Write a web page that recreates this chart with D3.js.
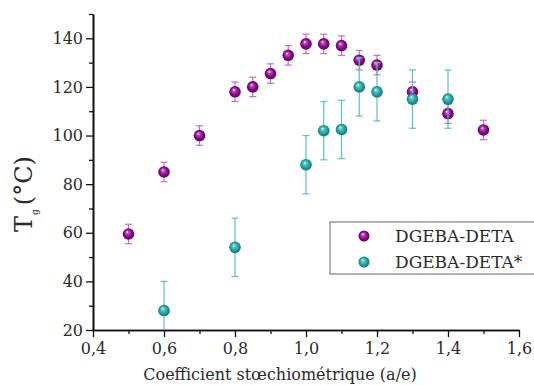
<!DOCTYPE html>
<html>
<head>
<meta charset="utf-8">
<script src="https://cdn.jsdelivr.net/npm/d3@7"></script>
<style>
body { margin: 0; background: #fff; }
svg text { font-family: "DejaVu Serif", serif; fill: #2a2a2a; }
</style>
</head>
<body>
<svg id="chart" width="534" height="385"></svg>
<script>
// DGEBA-DETA
var x_a = [0.5, 0.6, 0.7, 0.8, 0.85, 0.9, 0.95, 1.0, 1.05, 1.1, 1.15, 1.2, 1.3, 1.4, 1.5];
var y_a = [59.5, 85, 100, 118, 120, 125.5, 133, 137.7, 137.7, 137, 131, 129, 118, 109, 102.3];
var e_a = [4, 4, 4, 4, 4, 4, 4, 4, 4, 4, 4, 4, 4, 4, 4];
// DGEBA-DETA*
var x_b = [0.6, 0.8, 1.0, 1.05, 1.1, 1.15, 1.2, 1.3, 1.4];
var y_b = [28, 54, 88, 102, 102.5, 120, 118, 115, 115];
var e_b = [12, 12, 12, 12, 12, 12, 12, 12, 12];
var x_ticks = [0.4, 0.6, 0.8, 1.0, 1.2, 1.4, 1.6];
var y_ticks = [20, 40, 60, 80, 100, 120, 140];
var names = ["DGEBA-DETA", "DGEBA-DETA*"];

var serif = '"DejaVu Serif", serif';
var svg = d3.select('#chart');
var m_left = 93, m_right = 519, m_top = 14, m_bottom = 330;
var x = d3.scaleLinear().domain([0.4, 1.6]).range([m_left, m_right]);
var y = d3.scaleLinear().domain([20, 150]).range([m_bottom, m_top]);
var fmt = function (d) { return d3.format('.1f')(d).replace('.', ','); };

var defs = svg.append('defs');
function sphere(id, light, mid, dark) {
    var g = defs.append('radialGradient').attr('id', id)
        .attr('cx', '50%').attr('cy', '50%').attr('r', '55%')
        .attr('fx', '38%').attr('fy', '32%');
    g.append('stop').attr('offset', '0%').attr('stop-color', '#ffffff');
    g.append('stop').attr('offset', '22%').attr('stop-color', light);
    g.append('stop').attr('offset', '65%').attr('stop-color', mid);
    g.append('stop').attr('offset', '100%').attr('stop-color', dark);
}
sphere('sph_a', '#b050b0', '#880088', '#5a005a');
sphere('sph_b', '#60c8c8', '#1f9c9c', '#0c6a6a');
defs.append('clipPath').attr('id', 'plotclip')
    .append('rect').attr('x', m_left).attr('y', 0).attr('width', m_right - m_left + 10).attr('height', m_bottom);

// axes
var xAxis = d3.axisBottom(x).tickValues(x_ticks).tickFormat(fmt).tickSize(7).tickSizeOuter(0);
var xMinor = d3.axisBottom(x).tickValues([0.5, 0.7, 0.9, 1.1, 1.3, 1.5]).tickFormat('').tickSize(4).tickSizeOuter(0);
var yAxis = d3.axisLeft(y).tickValues(y_ticks).tickSize(7).tickSizeOuter(0);
var yMinor = d3.axisLeft(y).tickValues([30, 50, 70, 90, 110, 130, 150]).tickFormat('').tickSize(4).tickSizeOuter(0);

var gx = svg.append('g').attr('transform', 'translate(0,' + m_bottom + ')');
gx.call(xAxis);
gx.append('g').call(xMinor);
var gy = svg.append('g').attr('transform', 'translate(' + m_left + ',0)');
gy.call(yAxis);
gy.append('g').call(yMinor);
svg.selectAll('g').attr('font-family', null);
svg.selectAll('.domain').attr('stroke', '#111').attr('stroke-width', 1.6);
svg.selectAll('.tick line').attr('stroke', '#111').attr('stroke-width', 1.3);
gx.selectAll('.tick text').attr('font-size', 16).attr('y', 11).attr('dy', '0.8em')
    .style('font-family', serif).attr('fill', '#2a2a2a');
gy.selectAll('.tick text').attr('font-size', 16).attr('x', -10)
    .style('font-family', serif).attr('fill', '#2a2a2a');

// titles
svg.append('text').attr('x', 280).attr('y', 380).attr('text-anchor', 'middle')
    .style('font-family', serif)
    .attr('font-size', 16).text('Coefficient stœchiométrique (a/e)');
var yl = svg.append('text').attr('transform', 'translate(32,232) rotate(-90)')
    .style('font-family', serif).attr('font-size', 24);
yl.append('tspan').text('T');
yl.append('tspan').attr('font-size', 9).attr('dy', 6).attr('dx', 1).text('g');
yl.append('tspan').attr('dy', -6).attr('dx', 4).text('(°C)');

// error bars and points
function series(xs, ys, es, barColor, fill) {
    var g = svg.append('g');
    var eb = g.append('g').attr('clip-path', 'url(#plotclip)');
    xs.forEach(function (xv, i) {
        var cx = x(xv), y1 = y(ys[i] + es[i]), y2 = y(ys[i] - es[i]);
        eb.append('line').attr('x1', cx).attr('x2', cx).attr('y1', y1).attr('y2', y2)
            .attr('stroke', barColor).attr('stroke-width', 1.2);
        [y1, y2].forEach(function (yy) {
            eb.append('line').attr('x1', cx - 3.5).attr('x2', cx + 3.5).attr('y1', yy).attr('y2', yy)
                .attr('stroke', barColor).attr('stroke-width', 1.2);
        });
    });
    g.selectAll('circle').data(xs).enter().append('circle')
        .attr('cx', function (d) { return x(d); })
        .attr('cy', function (d, i) { return y(ys[i]); })
        .attr('r', 5.8)
        .attr('fill', fill);
    return g;
}
series(x_a, y_a, e_a, '#c26ec2', 'url(#sph_a)');
series(x_b, y_b, e_b, '#5cc0c0', 'url(#sph_b)');

// legend
var lg = svg.append('g');
lg.append('rect').attr('x', 330).attr('y', 222).attr('width', 210).attr('height', 52)
    .attr('fill', '#fff').attr('stroke', '#666').attr('stroke-width', 1);
names.forEach(function (n, i) {
    var yy = 236 + i * 26;
    lg.append('circle').attr('cx', 364).attr('cy', yy).attr('r', 5.5)
        .attr('fill', i === 0 ? 'url(#sph_a)' : 'url(#sph_b)');
    lg.append('text').attr('x', 395).attr('y', yy + 6).style('font-family', serif)
        .attr('font-size', 17).text(n);
});
</script>
</body>
</html>
